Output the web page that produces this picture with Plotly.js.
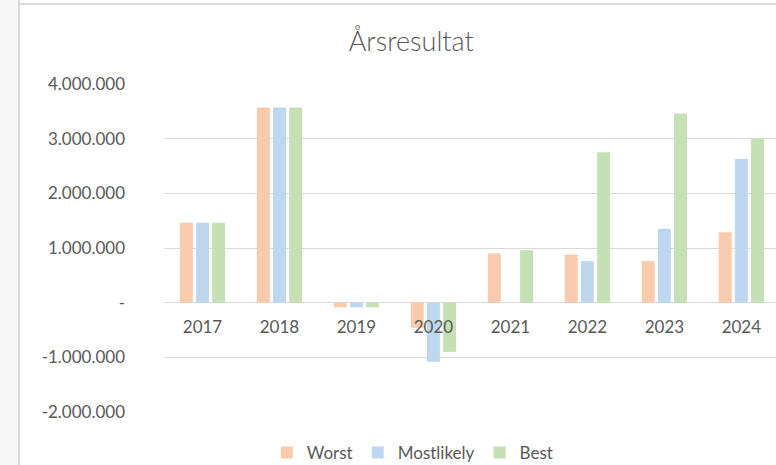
<!DOCTYPE html>
<html>
<head>
<meta charset="utf-8">
<script src="https://cdn.plot.ly/plotly-3.0.1.min.js"></script>
<style>
  body { margin: 0; background: #fff; }
  #strip { position: absolute; left: 0; top: 0; width: 18px; height: 465px; background: #f7f7f7; }
  #vline { position: absolute; left: 18px; top: 0; width: 2px; height: 465px; background: #d9d9d9; }
  #hline { position: absolute; left: 20px; top: 3px; width: 756px; height: 2px; background: #d9d9d9; }
  #grafica { position: absolute; left: 0; top: 0; width: 776px; height: 465px; }
</style>
</head>
<body>
<div id="strip"></div>
<div id="vline"></div>
<div id="hline"></div>
<div id="grafica"></div>
<script>
// aar og resultater (kr)
const aar = ['2017', '2018', '2019', '2020', '2021', '2022', '2023', '2024'];
const worst = [1460000, 3570000, -85000, -460000, 900000, 880000, 760000, 1290000];
const mostlikely = [1460000, 3570000, -85000, -1080000, 0, 760000, 1350000, 2630000];
const best = [1460000, 3570000, -85000, -900000, 960000, 2750000, 3460000, 3000000];

const yTicks = [-2000000, -1000000, 0, 1000000, 2000000, 3000000, 4000000];
const yTickText = ['-2.000.000', '-1.000.000', '-', '1.000.000', '2.000.000', '3.000.000', '4.000.000'];

const yMin = -2000000, yMax = 4000000;
const tekstFarge = '#595959';
const skrift = 'Lato, "Open Sans", sans-serif';

function lagSerie(navn, verdier, farge) {
    return { x: aar, y: verdier, name: navn, type: 'bar', marker: { color: farge } };
}

const serier = [
    lagSerie('Worst', worst, '#f8cbad'),
    lagSerie('Mostlikely', mostlikely, '#bdd7ee'),
    lagSerie('Best', best, '#c5e0b4')
];

Plotly.newPlot('grafica', serier, {
    width: 776,
    height: 465,
    margin: { l: 164, r: 0, t: 84, b: 53 },
    paper_bgcolor: 'rgba(0,0,0,0)',
    plot_bgcolor: 'rgba(0,0,0,0)',
    font: { family: skrift, color: tekstFarge, size: 17 },
    title: {
        text: 'Årsresultat',
        font: { family: skrift, size: 27, color: tekstFarge, weight: 300 },
        xref: 'container', x: 0.53, xanchor: 'center',
        yref: 'container', y: 0.91, yanchor: 'middle'
    },
    barmode: 'group',
    bargap: 0.37,
    bargroupgap: 0.2,
    xaxis: {
        type: 'category',
        range: [-0.5, 7.45],
        anchor: 'free',
        position: (0 - yMin) / (yMax - yMin),
        showgrid: false,
        showline: false,
        zeroline: false,
        ticks: '',
        ticklabelstandoff: 12,
        tickfont: { size: 17, color: tekstFarge }
    },
    yaxis: {
        range: [yMin, yMax],
        tickvals: yTicks,
        ticktext: yTickText,
        gridcolor: '#d9d9d9',
        gridwidth: 1,
        zeroline: true,
        zerolinecolor: '#d9d9d9',
        zerolinewidth: 1,
        showline: false,
        ticks: '',
        ticklabelstandoff: 38,
        tickfont: { size: 17, color: tekstFarge }
    },
    showlegend: true,
    legend: {
        orientation: 'h',
        xref: 'container', x: 0.532, xanchor: 'center',
        yref: 'container', y: 0.026, yanchor: 'middle',
        font: { size: 17, color: tekstFarge },
        bgcolor: 'rgba(0,0,0,0)'
    },
    hovermode: false
}, { displayModeBar: false, staticPlot: true });
</script>
</body>
</html>
